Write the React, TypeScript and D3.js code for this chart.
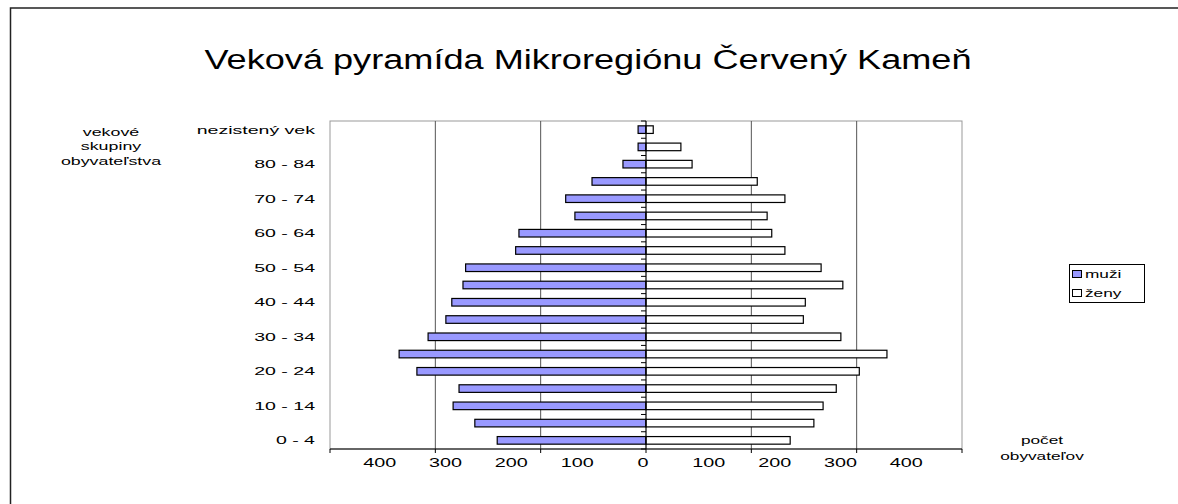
import React from 'react';
import * as d3 from 'd3';

// age groups, bottom to top
const ageGroups = ['0 - 4', '5 - 9', '10 - 14', '15 - 19', '20 - 24', '25 - 29', '30 - 34', '35 - 39', '40 - 44',
  '45 - 49', '50 - 54', '55 - 59', '60 - 64', '65 - 69', '70 - 74', '75 - 79', '80 - 84', '85 +', 'nezistený vek'];
const men = [226, 260, 293, 284, 348, 375, 331, 304, 295, 278, 274, 198, 193, 108, 122, 82, 35, 12, 12];
const women = [219, 255, 269, 289, 324, 366, 296, 239, 242, 299, 266, 211, 191, 184, 211, 169, 70, 53, 11];
const tickLabels = [-400, -300, -200, -100, 0, 100, 200, 300, 400];
const gridValues = [-480, -320, -160, 0, 160, 320, 480];

const W = 1178, H = 504;
const font = '"Liberation Sans", Arial, sans-serif';

// stretched text, like the original raster
const SText = ({ x, y, sx = 1.6, size = 11.5, anchor = 'middle', children }) => (
  <text transform={`translate(${x},${y}) scale(${sx},1)`} fontSize={size} textAnchor={anchor}
    fontFamily={font} fill="#000">{children}</text>
);

export default function App () {
  const x = d3.scaleLinear().domain([-480, 480]).range([330, 962]);
  const y = d3.scaleBand().domain(ageGroups).range([449, 121]);
  const bw = y.bandwidth();
  const bh = bw * 0.44;
  const top = 121, bottom = 449;

  return (
    <svg width={W} height={H} style={{ position: 'absolute', left: 0, top: 0, background: '#fff' }}>
      <rect x={10.5} y={8} width={W + 10} height={H + 10} fill="none" stroke="#222" strokeWidth={1.5} />

      <text x={588} y={69} fontSize={27} textAnchor="middle" fontFamily={font} textLength={767}
        lengthAdjust="spacingAndGlyphs">Veková pyramída Mikroregiónu Červený Kameň</text>

      {/* plot frame */}
      <rect x={x(-480)} y={top} width={x(480) - x(-480)} height={bottom - top} fill="none" stroke="#999" />

      {/* gridlines */}
      {gridValues.filter(v => v !== 0 && Math.abs(v) !== 480).map(v => (
        <line key={v} x1={x(v)} x2={x(v)} y1={top} y2={bottom} stroke="#555" />
      ))}

      {/* bars */}
      {ageGroups.map((g, i) => (
        <g key={g}>
          <rect x={x(-men[i])} y={y(g) + (bw - bh) / 2} width={x(0) - x(-men[i])} height={bh}
            fill="#9999ff" stroke="#000" strokeWidth={1.2} />
          <rect x={x(0)} y={y(g) + (bw - bh) / 2} width={x(women[i]) - x(0)} height={bh}
            fill="#fff" stroke="#000" strokeWidth={1.2} />
        </g>
      ))}

      {/* central axis with ticks */}
      <line x1={x(0)} x2={x(0)} y1={top} y2={bottom} stroke="#000" strokeWidth={1.2} />
      {d3.range(ageGroups.length + 1).map(k => (
        <line key={k} x1={x(0) - 5} x2={x(0)} y1={bottom - k * bw} y2={bottom - k * bw} stroke="#000" />
      ))}

      {/* bottom axis */}
      <line x1={x(-480)} x2={x(480)} y1={bottom} y2={bottom} stroke="#000" strokeWidth={1.2} />
      {gridValues.map(v => (
        <line key={v} x1={x(v)} x2={x(v)} y1={bottom} y2={bottom + 4} stroke="#000" />
      ))}
      {tickLabels.map((v, i) => (
        <SText key={i} x={x(v) - 3} y={467} size={12} sx={1.65}>{Math.abs(v)}</SText>
      ))}

      {/* category labels */}
      {ageGroups.map((g, i) => i % 2 === 0 && (
        <SText key={g} x={315} y={y(g) + bw / 2 + 4} anchor="end" sx={i === 18 ? 1.7 : 1.7}>{g}</SText>
      ))}

      <SText x={111} y={136} sx={1.55}>vekové</SText>
      <SText x={111} y={150} sx={1.55}>skupiny</SText>
      <SText x={111} y={165} sx={1.55}>obyvateľstva</SText>

      <SText x={1042} y={444} sx={1.5}>počet</SText>
      <SText x={1042} y={460} sx={1.5}>obyvateľov</SText>

      {/* legend */}
      <rect x={1069.5} y={264.5} width={75} height={38} fill="#fff" stroke="#000" />
      <rect x={1072.5} y={270.5} width={9} height={7} fill="#9999ff" stroke="#000" />
      <rect x={1072.5} y={289.5} width={9} height={7} fill="#fff" stroke="#000" />
      <SText x={1085} y={278} anchor="start" sx={1.5}>muži</SText>
      <SText x={1085} y={297} anchor="start" sx={1.5}>ženy</SText>
    </svg>
  );
}
